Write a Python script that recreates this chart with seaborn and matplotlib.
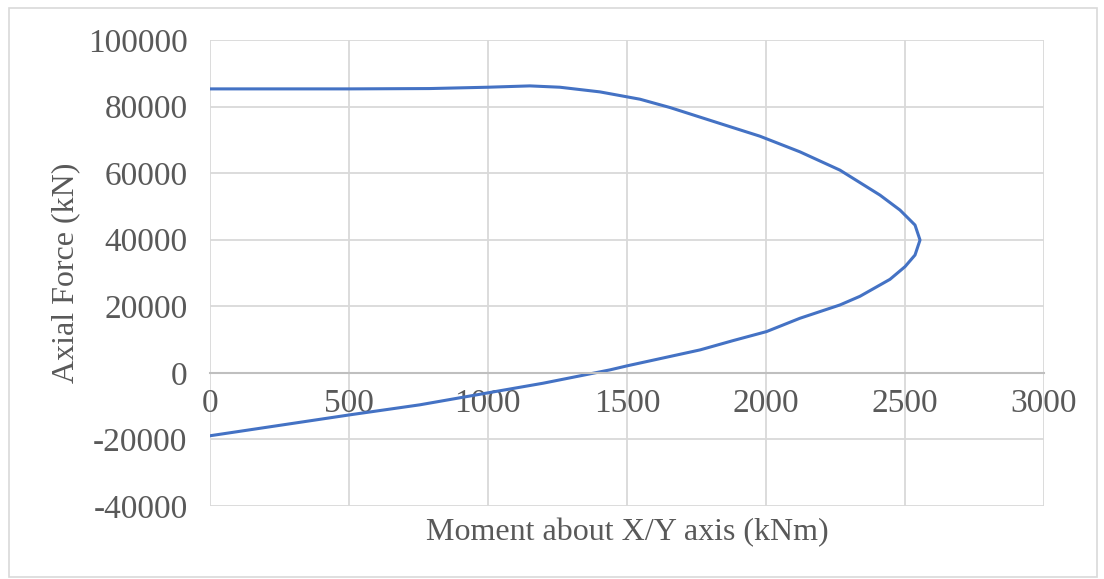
import numpy as np
import pandas as pd
import matplotlib
matplotlib.use('Agg')
import matplotlib.pyplot as plt
import seaborn as sns

# interaction curve (moment kNm, axial kN), traced top -> bottom
moment = [0, 500, 790, 1000, 1151, 1259, 1403, 1547, 1655, 1835, 1978, 2122, 2266, 2410,
          2482, 2536, 2554, 2536, 2500, 2446, 2338, 2266, 2122, 2002, 1882, 1763, 1500, 1439,
          1385, 1199, 1007, 755, 504, 240, 0]
axial = [85300, 85300, 85400, 85800, 86200, 85800, 84400, 82200, 79700, 74900, 71100, 66400, 60900, 53400,
         48900, 44400, 39900, 35400, 31900, 28100, 23000, 20400, 16400, 12400, 9700, 6900, 2100, 900,
         0, -3100, -5900, -9600, -12600, -15900, -18900]

x_ticks = [0, 500, 1000, 1500, 2000, 2500, 3000]
y_ticks = [-40000, -20000, 0, 20000, 40000, 60000, 80000, 100000]

df = pd.DataFrame({'M': moment, 'P': axial})

sns.set_style('white')
plt.rcParams['font.family'] = ['Liberation Serif', 'DejaVu Serif']
plt.rcParams['axes.unicode_minus'] = False

fig = plt.figure(figsize=(11.04, 5.79), dpi=100)
ax = fig.add_axes([0.190, 0.126, 0.7557, 0.805])

# outer chart border like excel
fig.patches.append(plt.Rectangle((0.008, 0.004), 0.986, 0.982, transform=fig.transFigure,
                                 fill=False, edgecolor='#d9d9d9', linewidth=1.2))

sns.lineplot(data=df, x='M', y='P', sort=False, estimator=None, color='#4472C4',
             linewidth=2.2, ax=ax)

ax.set_xlim(0, 3000)
ax.set_ylim(-40000, 100000)
ax.set_xticks(x_ticks)
ax.set_yticks(y_ticks)
ax.grid(True, color='#d9d9d9', linewidth=1.3)
ax.set_axisbelow(True)

for s in ['top', 'right', 'left']:
    ax.spines[s].set_visible(False)
ax.spines['bottom'].set_position(('data', 0))
ax.spines['bottom'].set_color('#bfbfbf')
ax.spines['bottom'].set_linewidth(1.5)

ax.tick_params(axis='both', length=0, labelsize=24, labelcolor='#595959')
ax.tick_params(axis='x', pad=11)
ax.tick_params(axis='y', pad=16)

ax.set_xlabel('Moment about X/Y axis (kNm)', fontsize=23, color='#595959')
ax.set_ylabel('Axial Force (kN)', fontsize=23, color='#595959')
ax.xaxis.set_label_coords(0.5, -0.025)
ax.yaxis.set_label_coords(-0.155, 0.5)

fig.savefig('out.png', dpi=100)
